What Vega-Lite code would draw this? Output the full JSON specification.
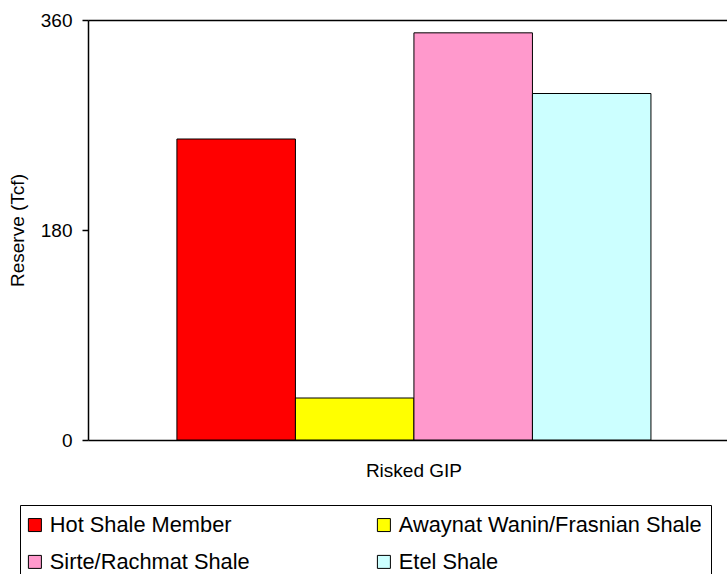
{
  "$schema": "https://vega.github.io/schema/vega-lite/v6.json",
  "width": 639,
  "height": 420,
  "autosize": {"type": "none"},
  "padding": {"left": 88, "top": 20, "right": 0, "bottom": 134},
  "background": "white",
  "config": {"view": {"stroke": null}, "font": "Liberation Sans"},
  "data": {
    "values": [
      {"category": "Risked GIP", "series": "Hot Shale Member", "reserve": 258},
      {"category": "Risked GIP", "series": "Awaynat Wanin/Frasnian Shale", "reserve": 36},
      {"category": "Risked GIP", "series": "Sirte/Rachmat Shale", "reserve": 349},
      {"category": "Risked GIP", "series": "Etel Shale", "reserve": 297}
    ]
  },
  "mark": {"type": "bar", "stroke": "black", "strokeWidth": 1},
  "encoding": {
    "x": {
      "field": "category",
      "type": "nominal",
      "scale": {"paddingInner": 0, "paddingOuter": 0.174, "align": 0.539},
      "axis": {
        "title": null,
        "labelAngle": 0,
        "ticks": false,
        "domainColor": "black",
        "domainWidth": 1.5,
        "labelFontSize": 19,
        "labelColor": "black",
        "labelPadding": 21
      }
    },
    "xOffset": {
      "field": "series",
      "type": "nominal",
      "sort": ["Hot Shale Member", "Awaynat Wanin/Frasnian Shale", "Sirte/Rachmat Shale", "Etel Shale"],
      "scale": {"paddingInner": 0, "paddingOuter": 0}
    },
    "y": {
      "field": "reserve",
      "type": "quantitative",
      "scale": {"domain": [0, 360], "nice": false},
      "axis": {
        "values": [0, 180, 360],
        "title": "Reserve (Tcf)",
        "titleFontSize": 19,
        "titleFontWeight": "normal",
        "titleColor": "black",
        "titlePadding": 13,
        "tickSize": 6,
        "tickColor": "black",
        "tickWidth": 1.5,
        "domainColor": "black",
        "domainWidth": 1.5,
        "labelFontSize": 19,
        "labelColor": "black",
        "labelPadding": 10,
        "grid": true,
        "gridColor": "black",
        "gridWidth": 1.5,
        "gridOpacity": {"expr": "datum.value === 360 ? 1 : 0"}
      }
    },
    "fill": {
      "field": "series",
      "type": "nominal",
      "scale": {
        "domain": ["Hot Shale Member", "Awaynat Wanin/Frasnian Shale", "Sirte/Rachmat Shale", "Etel Shale"],
        "range": ["#FF0000", "#FFFF00", "#FF99CC", "#CCFFFF"]
      },
      "legend": {
        "orient": "none",
        "legendX": -68,
        "legendY": 485,
        "direction": "horizontal",
        "columns": 2,
        "title": null,
        "symbolType": "square",
        "symbolSize": 169,
        "symbolOffset": -5,
        "symbolStrokeColor": "black",
        "symbolStrokeWidth": 1,
        "labelFontSize": 21.8,
        "labelColor": "black",
        "labelOffset": 4,
        "labelLimit": 500,
        "rowPadding": 14,
        "columnPadding": 125,
        "padding": 9,
        "strokeColor": "black",
        "fillColor": "white"
      }
    }
  }
}
